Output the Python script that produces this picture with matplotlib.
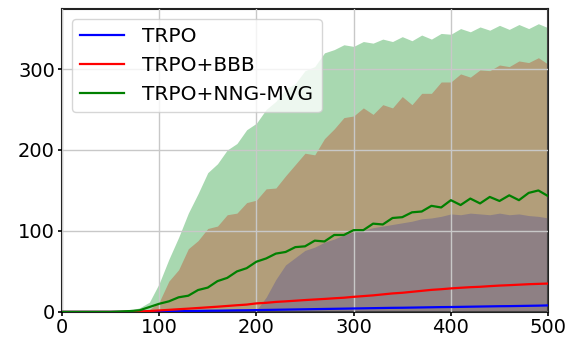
import numpy as np
import matplotlib
matplotlib.use("Agg")
import matplotlib.pyplot as plt

# iterations, sampled every 10
x = np.arange(0, 501, 10)

trpo_mean = [0, 0, 0, 0, 0, 0, 0, 0, 0.2, 0.3, 0.5, 0.6, 0.8, 1.0, 1.2, 1.4, 1.5, 1.7, 1.9, 2.0,
             2.2, 2.4, 2.6, 2.8, 3.0, 3.2, 3.4, 3.6, 3.8, 4.0, 4.2, 4.4, 4.6, 4.8, 5.0, 5.1, 5.3,
             5.5, 5.7, 5.9, 6.0, 6.2, 6.4, 6.6, 6.8, 7.0, 7.1, 7.3, 7.5, 7.7, 8.0]
bbb_mean = [0, 0, 0, 0, 0, 0, 0, 0.3, 0.6, 1.0, 1.8, 2.5, 3.3, 4.0, 4.8, 5.6, 6.4, 7.3, 8.2, 9.0,
            10.5, 11.2, 12.3, 13.0, 13.8, 14.6, 15.3, 16.0, 16.8, 17.5, 18.6, 19.5, 20.4, 21.6, 22.8,
            23.6, 24.8, 26.0, 27.2, 28.0, 29.0, 29.8, 30.5, 31.0, 31.8, 32.5, 33.0, 33.6, 34.2, 34.6, 35.0]
nng_mean = [0, 0, 0, 0, 0, 0, 0.5, 1, 2, 6, 10, 13, 18, 20, 27, 30, 38, 42, 50, 54,
            62, 66, 72, 74, 80, 81, 88, 87, 95, 95, 101, 101, 109, 108, 116, 117, 123, 124, 131, 129,
            138, 132, 140, 134, 142, 137, 144, 138, 147, 150, 143]

trpo_upper = [0, 0, 0, 0, 0, 0, 0, 0, 0, 0, 0, 0, 0, 0, 0, 0, 0, 0, 0, 0,
              2, 18, 40, 58, 67, 76, 80, 86, 90, 95, 99, 101, 104, 106, 108, 110, 112, 115, 116, 118,
              121, 120, 122, 121, 120, 122, 120, 121, 119, 118, 116]
bbb_upper = [0, 0, 0, 0, 0, 0, 0, 0, 0, 3, 12, 38, 52, 78, 88, 103, 106, 120, 122, 135,
             138, 152, 153, 168, 182, 196, 194, 214, 226, 240, 242, 252, 244, 256, 252, 266, 256, 270,
             270, 284, 284, 294, 290, 299, 298, 305, 303, 310, 308, 314, 306]
nng_upper = [0, 0, 0, 0, 0, 0, 0, 2, 5, 12, 35, 65, 92, 122, 146, 172, 183, 200, 208, 225,
             233, 250, 260, 275, 282, 298, 303, 320, 324, 330, 328, 334, 332, 337, 334, 340, 335, 342,
             337, 344, 343, 350, 346, 352, 348, 354, 349, 355, 350, 356, 351]

fig = plt.figure(figsize=(5.68, 3.39), dpi=100)
ax = fig.add_axes([0.109, 0.080, 0.856, 0.893])

zero = np.zeros(len(x))
ax.fill_between(x, zero, nng_upper, color="#a8d8b0", linewidth=0, zorder=1)
ax.fill_between(x, zero, bbb_upper, color="#b29e7a", linewidth=0, zorder=1.1)
ax.fill_between(x, zero, trpo_upper, color="#8e8084", linewidth=0, zorder=1.2)

ax.plot(x, trpo_mean, color="#0000ff", lw=1.6, label="TRPO", zorder=3)
ax.plot(x, bbb_mean, color="#ff0000", lw=1.6, label="TRPO+BBB", zorder=3)
ax.plot(x, nng_mean, color="#008000", lw=1.6, label="TRPO+NNG-MVG", zorder=3)

ax.set_xlim(0, 500)
ax.set_ylim(0, 374)
ax.set_xticks([0, 100, 200, 300, 400, 500])
ax.set_yticks([0, 100, 200, 300])
ax.tick_params(labelsize=14, length=3, width=1.2)
ax.tick_params(axis="x", pad=1.5)
ax.tick_params(axis="y", pad=2)
ax.set_axisbelow(False)
ax.grid(color="#c8c8c8", lw=1, zorder=2.5)
for s in ax.spines.values():
    s.set_linewidth(1.5)
    s.set_color("#222222")

ax.legend(loc="upper left", fontsize=14.5, handlelength=2.2, handletextpad=0.9)

fig.savefig("out.png", dpi=100)
